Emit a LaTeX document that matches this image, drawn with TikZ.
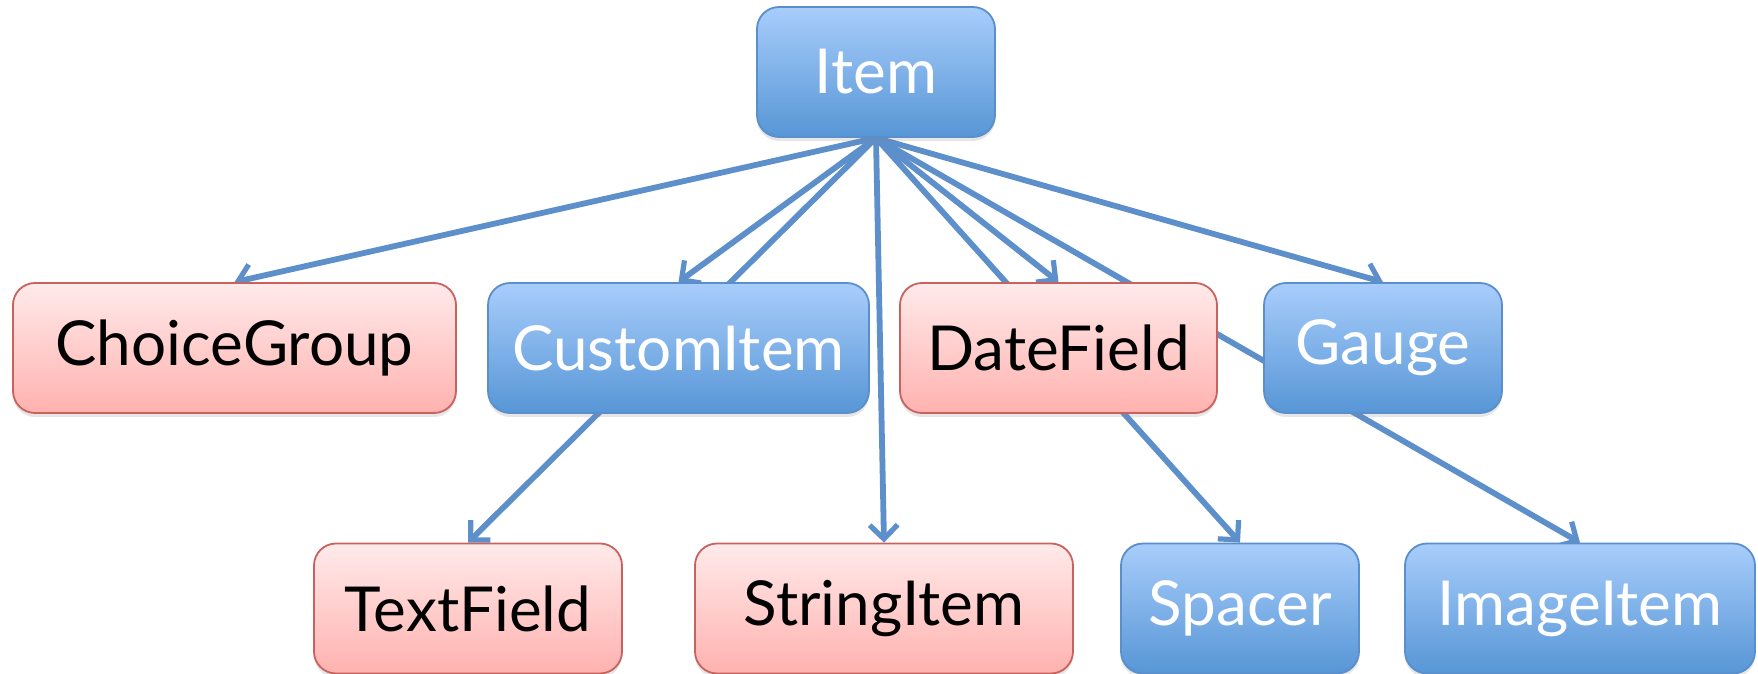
\documentclass[tikz,border=0pt]{standalone}
\usepackage{fontspec}
\setmainfont{Lato}
\usetikzlibrary{arrows.meta,shadows,backgrounds}

\definecolor{bluetop}{RGB}{168,205,251}
\definecolor{bluebot}{RGB}{87,150,214}
\definecolor{blueline}{RGB}{91,143,203}
\definecolor{redtop}{RGB}{255,234,234}
\definecolor{redbot}{RGB}{255,178,175}
\definecolor{redline}{RGB}{200,98,94}
\definecolor{link}{RGB}{93,143,203}

\begin{document}
\begin{tikzpicture}[
      x=0.5pt, y=-0.5pt,
      every node/.style={
        rectangle,
        rounded corners=11pt,
        minimum height=65pt,
        inner sep=2pt,
        line width=0.9pt,
        font=\fontsize{31}{35}\selectfont,
        drop shadow={shadow xshift=0pt, shadow yshift=-2pt, opacity=0.2}
      },
      bluebox/.style={
        draw=blueline,
        top color=bluetop,
        bottom color=bluebot,
        text=white
      },
      redbox/.style={
        draw=redline,
        top color=redtop,
        bottom color=redbot,
        text=black
      },
      inherit/.style={
        draw=link,
        line width=2.9pt,
        -{Straight Barb[length=7pt,width=14pt,line width=2.6pt]}
      }
    ]
      \useasboundingbox (0,0) rectangle (1758,674);

      \node[bluebox, minimum width=119pt] (item) at (876,72) {Item};

      \node[redbox, minimum width=221.5pt] (choice) at (234.5,348) {ChoiceGroup};
      \node[bluebox, minimum width=190.5pt] (custom) at (678.5,348) {CustomItem};
      \node[redbox, minimum width=158.5pt] (date) at (1058.5,348) {DateField};
      \node[bluebox, minimum width=119pt] (gauge) at (1383,348) {Gauge};

      \node[redbox, minimum width=154pt] (text) at (468,608.5) {TextField};
      \node[redbox, minimum width=189pt] (string) at (884,608.5) {StringItem};
      \node[bluebox, minimum width=119pt] (spacer) at (1240,608.5) {Spacer};
      \node[bluebox, minimum width=175pt] (image) at (1580,608.5) {ImageItem};

      \begin{scope}[on background layer]
        \foreach \sub in {choice,custom,text,string,date,spacer,gauge,image}
          \draw[inherit] (item.south) -- (\sub.north);
      \end{scope}
    \end{tikzpicture}
\end{document}
